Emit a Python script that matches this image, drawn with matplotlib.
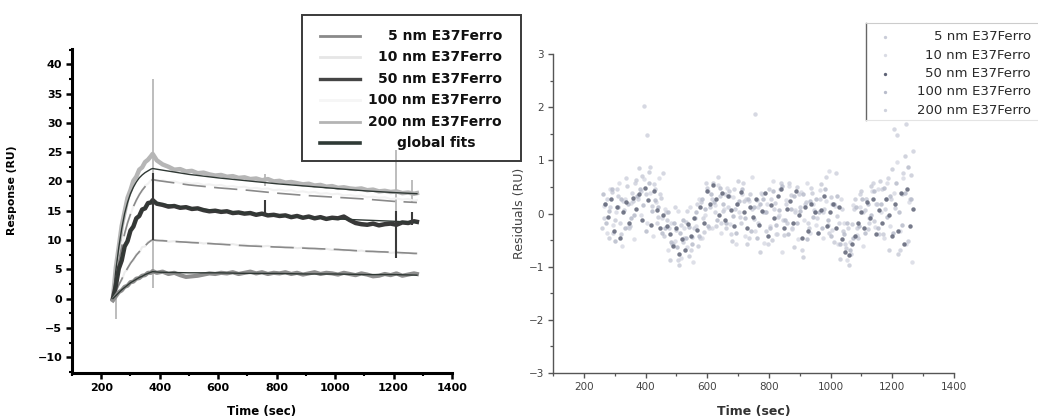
import matplotlib
matplotlib.use("Agg")
import matplotlib.pyplot as plt
from matplotlib.lines import Line2D
from matplotlib.patches import Rectangle
from matplotlib.ticker import MultipleLocator

W, H = 1038, 418

# ---------------- sensorgram data (RU) ----------------
# association 240-376 s every 10 s, dissociation every 20 s up to 1280 s
t_sens = list(range(240, 371, 10)) + [376] + list(range(390, 1271, 20)) + [1280]

data5 = [-0.3, 0.4, 1.1, 1.4, 2.0, 2.2, 2.8, 2.9, 3.4, 3.5, 3.9, 4.0, 4.4, 4.4, 4.7,
         4.4, 4.6, 4.2, 4.4, 4.0, 3.7, 3.8, 3.9, 4.1, 4.3,
         4.2, 4.4, 4.3, 4.5, 4.2, 4.4, 4.6, 4.3, 4.5, 4.2,
         4.4, 4.3, 4.5, 4.2, 4.4, 4.1, 4.3, 4.5, 4.2, 4.4,
         4.3, 4.1, 4.4, 4.2, 4.0, 4.3, 4.1, 3.8, 3.9, 4.2,
         4.0, 4.3, 3.9, 4.1, 4.3, 4.2]
data10 = [0.0, 1.0, 2.5, 3.1, 4.5, 5.0, 6.2, 6.5, 7.6, 7.8, 8.8, 8.9, 9.7, 9.8, 10.1,
          9.8, 10.0, 9.7, 9.8, 9.6, 9.7, 9.5, 9.6, 9.4, 9.5,
          9.3, 9.4, 9.2, 9.3, 9.1, 9.2, 9.0, 9.1, 8.9, 9.0,
          8.8, 8.9, 8.7, 8.8, 8.6, 8.7, 8.5, 8.6, 8.4, 8.5,
          8.3, 8.4, 8.2, 8.3, 8.1, 8.2, 8.0, 8.1, 7.9, 8.0,
          7.8, 7.9, 7.7, 7.8, 7.6, 7.7]
data50 = [0.0, 2.2, 5.1, 6.5, 8.9, 9.8, 11.6, 12.3, 13.7, 14.1, 15.2, 15.4, 16.3, 16.4, 16.8,
          16.2, 16.0, 15.7, 15.8, 15.5, 15.6, 15.3, 15.4, 15.1, 14.9,
          15.0, 14.8, 14.9, 14.6, 14.7, 14.5, 14.6, 14.3, 14.5, 14.2,
          14.3, 14.1, 14.2, 13.9, 14.1, 13.8, 14.0, 13.7, 13.9, 13.6,
          13.8, 13.7, 14.0, 13.4, 12.9, 12.7, 12.6, 12.8, 12.5, 12.7,
          12.8, 12.6, 13.0, 12.9, 13.2, 13.1]
data100 = [0.0, 3.6, 6.2, 9.1, 10.9, 13.0, 14.2, 15.8, 16.6, 17.9, 18.3, 19.3, 19.6, 20.2, 20.4,
           20.0, 20.2, 19.9, 20.0, 19.7, 19.8, 19.6, 19.7, 19.4, 19.5,
           19.3, 19.4, 19.1, 19.2, 19.0, 19.1, 18.8, 18.9, 18.7, 18.8,
           18.5, 18.6, 18.4, 18.5, 18.2, 18.3, 18.1, 18.2, 17.9, 18.0,
           17.8, 17.9, 17.6, 17.7, 17.5, 17.6, 17.3, 17.4, 17.2, 17.3,
           17.0, 17.1, 16.9, 17.0, 16.7, 16.8]
data200 = [0.0, 5.3, 8.8, 12.4, 14.8, 17.2, 18.5, 20.1, 20.8, 22.0, 22.4, 23.3, 23.7, 24.3, 24.7,
           23.6, 22.9, 22.5, 22.0, 22.1, 21.7, 21.8, 21.4, 21.5, 21.2,
           21.0, 21.1, 20.8, 20.9, 20.6, 20.7, 20.4, 20.5, 20.2, 20.4,
           20.0, 20.1, 19.8, 19.9, 19.7, 19.5, 19.6, 19.3, 19.4, 19.1,
           19.2, 18.9, 19.0, 18.8, 18.7, 18.8, 18.5, 18.6, 18.3, 18.4,
           18.2, 18.3, 18.0, 18.1, 17.9, 18.0]

# global fits
t_fit = [240, 250, 260, 270, 280, 290, 300, 310, 320, 330, 340, 350, 360, 370, 376,
         400, 500, 600, 700, 800, 900, 1000, 1100, 1200, 1280]
fit5 = [0, 0.5, 1.0, 1.5, 1.9, 2.3, 2.7, 3.0, 3.3, 3.6, 3.8, 4.1, 4.3, 4.5, 4.6,
        4.5, 4.4, 4.4, 4.3, 4.3, 4.2, 4.2, 4.1, 4.1, 4.0]
fit10 = [0, 1.2, 2.3, 3.3, 4.3, 5.2, 6.0, 6.7, 7.4, 8.0, 8.6, 9.0, 9.5, 9.9, 10.0,
         9.9, 9.6, 9.3, 9.0, 8.8, 8.6, 8.4, 8.1, 7.9, 7.7]
fit50 = [0, 2.5, 4.8, 6.8, 8.6, 10.1, 11.4, 12.5, 13.5, 14.3, 15.0, 15.6, 16.1, 16.5, 16.6,
         16.2, 15.5, 15.0, 14.6, 14.2, 13.9, 13.6, 13.4, 13.2, 13.0]
fit100 = [0, 3.4, 6.4, 8.9, 11.1, 12.9, 14.4, 15.7, 16.8, 17.7, 18.5, 19.1, 19.7, 20.1, 20.3,
          20.1, 19.4, 18.9, 18.5, 18.0, 17.6, 17.3, 17.0, 16.6, 16.4]
fit200 = [0, 4.8, 8.7, 11.9, 14.5, 16.4, 17.9, 19.0, 19.9, 20.6, 21.1, 21.5, 21.8, 22.1, 22.2,
          22.0, 21.2, 20.6, 20.1, 19.6, 19.2, 18.8, 18.4, 18.1, 17.9]

# injection spikes
spike_light_t = [250, 376, 760, 1210, 1262]
spike_light_lo = [-3.5, 1.8, 19.3, 15.0, 16.5]
spike_light_hi = [0.2, 37.4, 21.2, 25.3, 20.2]
spike_dark_t = [376, 760, 1210, 1262]
spike_dark_lo = [10.0, 14.2, 7.0, 12.5]
spike_dark_hi = [21.5, 16.8, 15.0, 14.8]

# ---------------- residuals (RU), every 10 s, each run read from its own start ----------------
t_res5 = list(range(260, 1261, 10))
t_res10 = list(range(264, 1265, 10))
t_res50 = list(range(268, 1269, 10))
t_res100 = list(range(262, 1263, 10))
t_res200 = list(range(266, 1267, 10))

res5 = [-0.27, 0.18, -0.46, 0.41, -0.12, 0.33, -0.38, 0.07, 0.52, -0.23,
        0.24, 0.63, 0.86, 0.71, 0.36, 0.78, 0.15, 0.47, -0.06, 0.29,
        -0.42, -0.13, -0.88, -0.57, -0.31, -0.97, -0.54, -0.16, -0.79, -0.44,
        -0.08, -0.62, 0.21, -0.34, 0.48, 0.12, 0.57, -0.24, 0.32, 0.04,
        -0.28, 0.43, -0.51, 0.09, 0.61, -0.17, 0.23, -0.58, 0.37, -0.11,
        0.26, -0.72, 0.03, -0.33, 0.46, -0.49, 0.19, -0.07, 0.58, -0.41,
        -0.18, 0.34, -0.63, 0.49, 0.13, -0.81, 0.22, -0.27, 0.39, 0.02,
        -0.36, 0.56, 0.08, -0.21, 0.31, -0.53, -0.04, -0.86, -0.32, -0.64,
        -0.96, -0.19, 0.28, -0.47, 0.42, 0.06, -0.29, 0.51, -0.14, 0.17,
        0.62, -0.38, 0.27, -0.68, 0.83, 0.11, -0.77, 0.36, 1.08, -0.52,
        0.73]
res10 = [0.14, -0.37, 0.46, -0.22, 0.03, 0.57, -0.61, 0.28, -0.26, 0.19,
         -0.48, 0.32, -0.03, 0.64, -0.17, 0.38, -0.43, 0.21, 0.67, -0.09,
         0.08, -0.69, -0.18, -0.52, 0.04, -0.83, -0.27, -0.63, 0.13, -0.92,
         -0.24, 0.27, -0.47, -0.02, 0.43, -0.28, 0.16, 0.53, -0.37, 0.09,
         0.48, -0.19, 0.31, -0.58, 0.02, 0.37, -0.42, 0.24, 0.68, -0.32,
         0.12, 0.39, -0.56, 0.17, -0.23, 0.61, -0.38, -0.03, -0.72, 0.26,
         0.52, -0.29, 0.07, -0.48, 0.41, -0.13, 0.58, -0.36, 0.18, -0.22,
         0.44, -0.47, 0.23, 0.79, -0.31, 0.14, -0.57, 0.27, -0.18, -0.88,
         -0.53, 0.16, -0.41, 0.12, -0.62, 0.28, -0.08, 0.42, -0.26, 0.47,
         0.03, -0.46, 0.57, -0.24, 0.38, 0.97, -0.33, 0.66, -0.58, 0.22,
         -0.91]
res50 = [0.18, -0.07, 0.27, -0.32, 0.12, -0.46, 0.03, 0.22, -0.17, 0.29,
         0.08, 0.37, -0.12, 0.48, 0.26, -0.21, 0.43, 0.07, -0.28, -0.02,
         -0.23, -0.38, -0.62, -0.27, -0.77, -0.48, -0.68, -0.19, -0.43, -0.08,
         -0.31, 0.13, -0.17, 0.42, 0.18, 0.53, 0.27, -0.03, 0.38, -0.12,
         0.32, 0.06, -0.24, 0.17, 0.41, 0.02, -0.28, 0.13, -0.07, 0.27,
         -0.22, 0.04, 0.38, -0.42, 0.16, -0.09, 0.33, 0.47, -0.27, 0.08,
         0.23, -0.18, 0.42, -0.03, -0.47, 0.12, -0.32, 0.18, 0.03, -0.37,
         0.07, 0.32, -0.23, 0.02, 0.18, -0.28, 0.12, -0.48, -0.73, -0.78,
         -0.57, -0.42, -0.17, 0.03, -0.27, 0.22, -0.08, 0.28, -0.38, 0.07,
         -0.18, 0.27, -0.03, -0.43, 0.17, -0.32, 0.38, -0.58, 0.47, -0.23,
         0.08]
res100 = [0.37, -0.18, 0.04, 0.46, -0.52, 0.13, 0.28, -0.27, 0.17, -0.08,
          -0.03, 0.32, 0.47, 0.16, -0.33, 0.58, 0.04, 0.26, 0.12, -0.37,
          -0.28, 0.03, -0.54, -0.17, -0.63, -0.36, -0.12, -0.47, -0.26, -0.58,
          0.02, -0.43, 0.27, 0.08, -0.23, 0.36, 0.22, -0.13, 0.48, 0.17,
          -0.18, 0.33, -0.04, -0.37, 0.24, 0.47, -0.08, 0.27, -0.32, 0.12,
          -0.47, 0.18, 0.28, 0.03, -0.27, 0.43, -0.22, 0.07, 0.52, -0.13,
          -0.38, 0.08, 0.32, -0.17, 0.04, 0.37, -0.48, 0.23, -0.06, 0.28,
          0.03, -0.27, 0.46, -0.12, -0.42, 0.17, 0.33, -0.57, -0.38, -0.18,
          -0.68, -0.47, 0.13, -0.23, 0.27, -0.36, 0.18, -0.02, 0.43, -0.28,
          0.17, 0.48, -0.07, 0.32, -0.37, 0.57, 0.03, -0.22, 0.38, 0.87,
          0.27]
res200 = [-0.08, 0.27, 0.12, -0.37, 0.47, -0.18, 0.23, 0.66, -0.27, 0.38,
          0.57, 0.28, 0.43, 2.03, 1.48, 0.87, 0.56, -0.17, 0.37, 0.76,
          0.03, -0.28, -0.57, 0.13, -0.87, -0.22, -0.47, 0.04, -0.68, -0.27,
          0.18, -0.47, -0.08, 0.57, -0.28, 0.27, 0.03, 0.68, -0.17, 0.37,
          0.12, -0.38, 0.47, 0.18, -0.07, 0.57, 0.28, -0.47, 0.08, 1.88,
          -0.18, 0.37, 0.02, -0.57, 0.27, 0.08, -0.38, 0.47, -0.12, 0.17,
          0.57, -0.27, 0.03, 0.37, -0.68, 0.18, -0.17, 0.48, 0.07, -0.08,
          0.27, 0.02, 0.68, -0.37, 0.17, 0.77, -0.18, 0.08, -0.57, -0.28,
          -0.77, 0.08, -0.27, 0.37, 0.03, 0.28, -0.17, 0.57, 0.17, -0.38,
          0.47, 0.08, 0.66, 0.27, 1.58, 1.47, -0.68, 0.77, 1.68, 0.28,
          1.18]

labels = ["5 nm E37Ferro", "10 nm E37Ferro", "50 nm E37Ferro",
          "100 nm E37Ferro", "200 nm E37Ferro"]


def fx(x):
    return x / W


def fy(y):
    return 1 - y / H


fig = plt.figure(figsize=(W / 100, H / 100), dpi=100)

###############################################################################
# Left panel: sensorgrams + global fits
ax1 = fig.add_axes([fx(72), fy(373), (452 - 72) / W, (373 - 49) / H])

ax1.vlines(spike_light_t, spike_light_lo, spike_light_hi, color="#b8b8b8", lw=1.3)
ax1.plot(t_sens, data200, color="#b6b6b6", lw=3.2)
ax1.plot(t_sens, data100, color="#f2f2f2", lw=1.5)
ax1.plot(t_sens, data10, color="#ececec", lw=1.5)
ax1.plot(t_fit, fit200, color="#2f3834", lw=1.0)
ax1.plot(t_fit, fit100, color="#8a8a8a", lw=1.2, dashes=(14, 5))
ax1.plot(t_fit, fit10, color="#8a8a8a", lw=1.2, dashes=(14, 5))
ax1.plot(t_sens, data50, color="#383838", lw=3.2)
ax1.plot(t_fit, fit50, color="#2f3834", lw=1.0)
ax1.plot(t_sens, data5, color="#8e8e8e", lw=3.0)
ax1.plot(t_fit, fit5, color="#2f3834", lw=1.0)
ax1.vlines(spike_dark_t, spike_dark_lo, spike_dark_hi, color="#3a3a3a", lw=1.5)

ax1.set_xlim(100, 1400)
ax1.set_ylim(-12.7, 42.6)
ax1.xaxis.set_major_locator(MultipleLocator(200))
ax1.xaxis.set_minor_locator(MultipleLocator(100))
ax1.yaxis.set_major_locator(MultipleLocator(5))
ax1.yaxis.set_minor_locator(MultipleLocator(2.5))
for s in ["top", "right"]:
    ax1.spines[s].set_visible(False)
for s in ["left", "bottom"]:
    ax1.spines[s].set_linewidth(2.2)
ax1.tick_params(which="major", direction="out", length=4, width=1.8, labelsize=8, pad=3)
ax1.tick_params(which="minor", direction="out", length=2.5, width=1.5)
for lab in ax1.get_xticklabels() + ax1.get_yticklabels():
    lab.set_fontweight("bold")
ax1.set_xlabel("Time (sec)", fontsize=8.5, fontweight="bold")
ax1.set_ylabel("Response (RU)", fontsize=7.8, fontweight="bold")
ax1.xaxis.set_label_coords(0.5, -0.1)
ax1.yaxis.set_label_coords(-0.145, 0.565)

# left legend box
fig.patches.append(Rectangle((fx(302), fy(161)), (521 - 302) / W, (161 - 15) / H,
                             transform=fig.transFigure, fill=False,
                             edgecolor="#3a3a3a", lw=1.4))
leg_colors = ["#8a8a8a", "#e6e6e6", "#454545", "#f6f6f6", "#b4b4b4", "#2f3a36"]
leg_lw = [2.0, 2.0, 2.4, 2.0, 2.0, 2.6]
leg_text = labels + ["global fits"]
for i, (c, lw_, txt) in enumerate(zip(leg_colors, leg_lw, leg_text)):
    yy = 36 + i * 21.4
    fig.lines.append(Line2D([fx(320), fx(360)], [fy(yy), fy(yy)], color=c, lw=lw_,
                            transform=fig.transFigure))
    if txt == "global fits":
        fig.text(fx(436), fy(yy), txt, ha="center", va="center",
                 fontsize=10, fontweight="bold", color="#111111")
    else:
        fig.text(fx(502), fy(yy), txt, ha="right", va="center",
                 fontsize=10, fontweight="bold", color="#111111")

###############################################################################
# Right panel: residuals
ax2 = fig.add_axes([fx(553), fy(373), (954 - 553) / W, (373 - 54) / H])
res_sets = [(t_res5, res5), (t_res10, res10), (t_res50, res50),
            (t_res100, res100), (t_res200, res200)]
res_colors = ["#c9ccd8", "#d9dbe4", "#5e6376", "#b8bccb", "#cfd2dd"]
order = [1, 4, 0, 3, 2]
for k in order:
    tt, rr = res_sets[k]
    ax2.plot(tt, rr, ls="none", marker="o", ms=3.2, mew=0,
             color=res_colors[k], alpha=0.85)

ax2.set_xlim(100, 1400)
ax2.set_ylim(-3, 3)
ax2.xaxis.set_major_locator(MultipleLocator(200))
ax2.xaxis.set_minor_locator(MultipleLocator(100))
ax2.yaxis.set_major_locator(MultipleLocator(1))
ax2.yaxis.set_minor_locator(MultipleLocator(0.5))
for s in ["top", "right"]:
    ax2.spines[s].set_visible(False)
for s in ["left", "bottom"]:
    ax2.spines[s].set_linewidth(1.0)
    ax2.spines[s].set_color("#555555")
ax2.tick_params(which="major", direction="out", length=3.5, width=1.0, color="#555555",
                labelsize=7.5, labelcolor="#444444", pad=3)
ax2.tick_params(which="minor", direction="out", length=2, width=0.9, color="#555555")
ax2.set_xlabel("Time (sec)", fontsize=9, fontweight="bold", color="#333333")
ax2.set_ylabel("Residuals (RU)", fontsize=9, color="#444444")
ax2.xaxis.set_label_coords(0.5, -0.1)
ax2.yaxis.set_label_coords(-0.067, 0.5)

# right legend box
fig.lines.append(Line2D([fx(866), fx(866)], [fy(23), fy(120)], color="#666666", lw=1.0,
                        transform=fig.transFigure))
fig.lines.append(Line2D([fx(866), fx(1038)], [fy(23), fy(23)], color="#cccccc", lw=0.8,
                        transform=fig.transFigure))
fig.lines.append(Line2D([fx(866), fx(1038)], [fy(120), fy(120)], color="#e4e4e4", lw=0.8,
                        transform=fig.transFigure))
for i, txt in enumerate(labels):
    yy = 37 + i * 18.3
    fig.lines.append(Line2D([fx(885)], [fy(yy)], ls="none", marker="o", ms=2.4, mew=0,
                            color=res_colors[i], transform=fig.transFigure))
    fig.text(fx(1031), fy(yy), txt, ha="right", va="center", fontsize=9.5,
             color="#2a2a2a")

fig.savefig("out.png", dpi=100)
